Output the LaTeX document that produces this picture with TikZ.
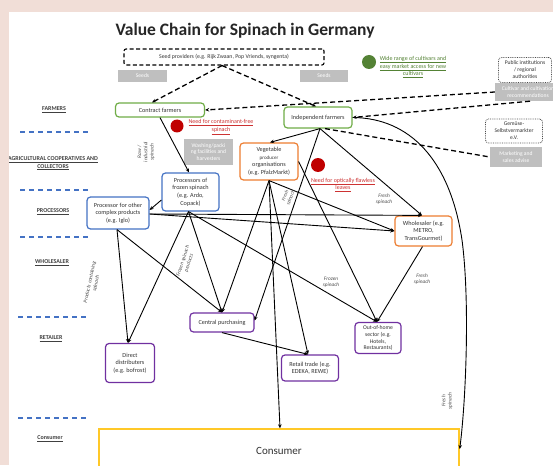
\documentclass[tikz,border=0pt]{standalone}
\usepackage{fontspec}
\setmainfont{Carlito}
\usetikzlibrary{arrows.meta,calc}
\definecolor{pinkbg}{RGB}{241,222,215}
\definecolor{cgreen}{RGB}{112,173,71}
\definecolor{corange}{RGB}{237,125,49}
\definecolor{cblue}{RGB}{68,114,196}
\definecolor{cpurple}{RGB}{112,48,160}
\definecolor{cyellow}{RGB}{255,200,40}
\definecolor{cgrey}{RGB}{191,191,191}
\definecolor{dgreen}{RGB}{84,130,53}
\definecolor{cred}{RGB}{192,0,0}
\definecolor{tred}{RGB}{205,50,50}
\begin{document}
\begin{tikzpicture}[x=1pt,y=-1pt,
  bx/.style={draw, rounded corners=3.5pt, line width=1.2pt, fill=white, align=center, inner sep=0pt, text=black!80, font=\fontsize{6.2}{7.6}\selectfont},
  gbx/.style={fill=cgrey, text=white, align=center, inner sep=0pt, font=\fontsize{5.6}{6.8}\selectfont},
  dbx/.style={draw=black!70, densely dotted, line width=0.8pt, rounded corners=3pt, align=center, inner sep=0pt, text=black!80, font=\fontsize{5.6}{7}\selectfont},
  lvl/.style={font=\fontsize{6}{7.5}\selectfont\bfseries, text=black!75, align=center},
  sep/.style={cblue, line width=1.3pt, dash pattern=on 5pt off 4pt},
  arr/.style={line width=0.9pt, -{Stealth[length=4pt,width=3.5pt]}},
  darr/.style={line width=1.3pt, dash pattern=on 5pt off 3pt, -{Stealth[length=4pt,width=3.5pt]}},
  dln/.style={line width=1.3pt, dash pattern=on 5pt off 3pt},
  lab/.style={font=\fontsize{5.3}{6.3}\selectfont\itshape, text=black!70, align=center, inner sep=0pt},
  note/.style={font=\fontsize{6}{7.8}\selectfont, align=center},
]
\useasboundingbox (0,0) rectangle (553,465);
\fill[white] (0,0) rectangle (553,465);

% title and top row
\node[font=\fontsize{17.5}{20}\selectfont\bfseries, text=black!85] (title) at (245,31) {Value Chain for Spinach in Germany};
\node[draw, line width=1.1pt, dash pattern=on 4pt off 2.5pt, rounded corners=2pt, minimum width=200pt, minimum height=16pt, inner sep=0pt, font=\fontsize{5.8}{7}\selectfont, text=black!80] (seed) at (224,57) {Seed providers (e.g. Rijk Zwaan, Pop Vriends, syngenta)};
\node[gbx, minimum width=49pt, minimum height=12pt] (seeds1) at (142.5,76) {Seeds};
\node[gbx, minimum width=48pt, minimum height=12pt] (seeds2) at (324,76) {Seeds};
\node[circle, fill=dgreen, minimum size=14pt, inner sep=0pt] (gdot) at (369,62) {};
\node[note, text=dgreen] (gtext) at (413,67) {\underline{Wide range of cultivars and}\\\underline{easy market access for new}\\\underline{cultivars}};
\node[dbx, fill=white, minimum width=53pt, minimum height=25pt] (pub) at (525,70) {Public institutions\\/ regional\\authorities};
\node[gbx, minimum width=66pt, minimum height=18pt] (recs) at (528,92) {Cultivar and cultivation\\recommendations};

% farmers
\node[lvl] (lfarm) at (54,110) {\underline{FARMERS}};
\node[bx, draw=cgreen, minimum width=89pt, minimum height=14pt] (cf) at (160,110) {Contract farmers};
\node[bx, draw=cgreen, minimum width=68pt, minimum height=21pt] (indep) at (318,117.5) {Independent farmers};
\node[circle, fill=cred, minimum size=13pt, inner sep=0pt] (rdot1) at (177,126) {};
\node[note, text=tred] (rtext1) at (221,127) {\underline{Need for contaminant-free}\\\underline{spinach}};
\node[dbx, minimum width=57pt, minimum height=24pt] (gem) at (514,131) {Gemüse-\\Selbstvermarkter\\e.V.};
\node[gbx, minimum width=52pt, minimum height=20pt] (mkt) at (516,157) {Marketing and\\sales advise};
\node[gbx, minimum width=49pt, minimum height=26pt] (wash) at (208.5,152) {Washing/packi\\ng facilities and\\harvesters};
\node[lvl] (lagri) at (53,163.5) {\underline{AGRICULTURAL COOPERATIVES AND}\\\underline{COLLECTORS}};
\node[bx, draw=corange, minimum width=58pt, minimum height=37pt] (veg) at (269,161.5) {Vegetable\\{\fontsize{5}{7.6}\selectfont producer}\\organisations\\(e.g. PfalzMarkt)};
\node[circle, fill=cred, minimum size=14pt, inner sep=0pt] (rdot2) at (318,165) {};
\node[note, text=tred] (rtext2) at (343,185) {\underline{Need for optically flawless}\\\underline{leaves}};

% processors
\node[bx, draw=cblue, minimum width=57pt, minimum height=38pt] (froz) at (190.5,192) {Processors of\\frozen spinach\\(e.g. Ardo,\\Copack)};
\node[bx, draw=cblue, minimum width=62pt, minimum height=32pt] (other) at (118,213) {Processor for other\\complex products\\(e.g. Iglo)};
\node[lvl] (lproc) at (53,212) {\underline{PROCESSORS}};
\node[bx, draw=corange, minimum width=57pt, minimum height=30pt] (wh) at (423.5,231) {Wholesaler (e.g.\\METRO,\\TransGourmet)};
\node[lvl] (lwhole) at (52,263) {\underline{WHOLESALER}};

% retail
\node[bx, draw=cpurple, minimum width=64pt, minimum height=19pt] (cp) at (222,322.5) {Central purchasing};
\node[bx, draw=cpurple, minimum width=46pt, minimum height=31pt, font=\fontsize{5.7}{6.9}\selectfont] (ooh) at (378,338) {Out-of-home\\sector (e.g.\\Hotels,\\Restaurants)};
\node[lvl] (lret) at (51,339) {\underline{RETAILER}};
\node[bx, draw=cpurple, minimum width=49pt, minimum height=39pt] (dd) at (130,363) {Direct\\distributers\\(e.g. bofrost)};
\node[bx, draw=cpurple, minimum width=57pt, minimum height=26pt] (rt) at (310,368) {Retail trade (e.g.\\EDEKA, REWE)};
\node[lvl] (lcons) at (50,439) {\underline{Consumer}};
\node[bx, draw=cyellow, rounded corners=0pt, line width=1.4pt, minimum width=360pt, minimum height=44pt, font=\fontsize{11}{13}\selectfont] (cons) at (279,451) {Consumer};

% separators
\draw[sep] (20,132) -- (89,132);
\draw[sep] (20,190) -- (89,190);
\draw[sep] (20,237) -- (89,237);
\draw[sep] (18,317) -- (88,317);
\draw[sep] (18,418) -- (88,418);

% dashed connectors
\draw[darr] ([xshift=-2pt]seed.south) -- ([xshift=-8pt]cf.north);
\draw[darr] ([xshift=-2pt]seed.south) -- ([xshift=-2pt]indep.north);
\draw[darr] (recs.west) -- (cf.east);
\draw[darr] ([xshift=2pt]recs.south) -- (indep.east);
\draw[dln] ([xshift=7pt]indep.south) -- (mkt.west);

% solid connectors
\draw[arr] (cf.south) -- ([xshift=-1.5pt]froz.north);
\coordinate (iS) at ([xshift=2pt]indep.south);
\draw[arr] (iS) -- ([xshift=1pt]veg.north);
\draw[arr] (iS) -- ([xshift=-1.5pt]wh.north);
\draw[arr] (iS) -- ([yshift=2pt]cp.east);
\draw[arr] (indep.east) .. controls (410,118) and (450,160) .. (462,240) .. controls (470,300) and (466,400) .. ([yshift=2pt]cons.east);
\draw[arr] (veg.south) -- (cp.north);
\draw[arr] (veg.south) -- ([xshift=1pt]cons.north);
\draw[arr] (veg.south) -- ([xshift=-2pt]rt.north);
\draw[arr] (veg.south) -- (wh.west);
\draw[arr] (veg.east) -- ([xshift=-1pt]ooh.north);
\draw[arr] ([yshift=-8pt]froz.west) -- ([yshift=3pt]other.east);
\coordinate (oE) at ([yshift=-1pt]other.east);
\draw[arr] (oE) -- ([xshift=-1.5pt]wh.north);
\draw[arr] (oE) -- (wh.west);
\coordinate (oS) at ([xshift=-1pt]other.south);
\draw[arr] (oS) -- (cp.north);
\draw[arr] (oS) -- ([xshift=-2pt]dd.north);
\coordinate (fS) at ([xshift=-2pt]froz.south);
\draw[arr] (fS) -- ([xshift=-2pt]dd.north);
\draw[arr] (fS) -- (cp.north);
\draw[arr] (fS) -- ([xshift=-1pt]ooh.north);
\draw[arr] ([xshift=-1pt]wh.south) -- ([xshift=-1pt]ooh.north);
\draw[arr] (cp.south) -- ([xshift=-2pt]rt.north);

% connector labels
\node[lab, rotate=90] (lraw) at (146,152) {Raw /\\industrial\\spinach};
\node[lab] (lfs1) at (384,199) {Fresh\\spinach};
\node[lab, rotate=68, font=\fontsize{5}{5.8}\selectfont\itshape] (lfs2) at (288,197) {Fresh\\spinach};
\node[lab, rotate=72] (lfsp) at (186,262) {Frozen spinach\\products};
\node[lab, rotate=78] (lpcs) at (93,283) {Products containing\\spinach};
\node[lab] (lfz) at (331,282) {Frozen\\spinach};
\node[lab] (lfs3) at (422,279) {Fresh\\spinach};
\node[lab, rotate=90] (lfs4) at (447,401) {Fresh\\spinach};

% page border
\fill[pinkbg] (0,0) rectangle (9,465);
\fill[pinkbg] (0,0) rectangle (553,12);
\end{tikzpicture}
\end{document}
